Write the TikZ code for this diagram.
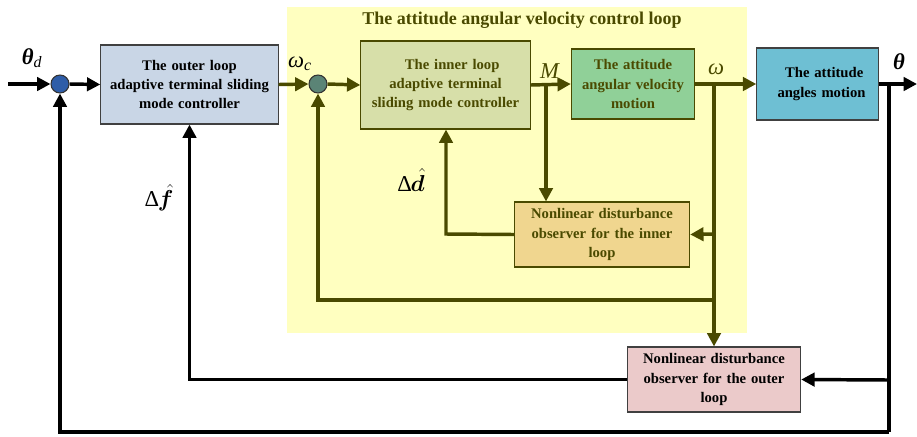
\documentclass[tikz,border=0pt]{standalone}
\usepackage{amsmath,amssymb,bm}
\usepackage{fontspec}
\setmainfont{Liberation Serif}
\usetikzlibrary{arrows.meta,calc}
\definecolor{ybg}{HTML}{FFFFC0}
\definecolor{olv}{HTML}{4A4A00}
\definecolor{outerf}{HTML}{C9D6E6}
\definecolor{innerf}{HTML}{D7DFA9}
\definecolor{motf}{HTML}{90D098}
\definecolor{angf}{HTML}{6EBFD3}
\definecolor{iobsf}{HTML}{F0D68F}
\definecolor{oobsf}{HTML}{EBCACA}
\definecolor{cblue}{HTML}{2E5DA8}
\definecolor{cteal}{HTML}{5B8476}
\tikzset{
  blk/.style={draw=black!75,line width=0.8pt,align=center,font=\fontsize{11}{14.5}\selectfont\bfseries,inner sep=2pt},
  sumc/.style={circle,draw=black!80,line width=0.8pt,minimum size=13.5pt,inner sep=0pt},
  bl/.style={line width=2.6pt,black,-{Triangle[length=10pt,width=10pt]}},
  ol/.style={line width=2.6pt,olv,-{Triangle[length=10pt,width=10pt]}},
  blp/.style={line width=2.6pt,black},
  lab/.style={font=\fontsize{17}{19}\selectfont},
}
\begin{document}
\begin{tikzpicture}[x=0.75pt,y=-0.75pt]
\useasboundingbox (0,0) rectangle (917,436);
% yellow loop region
\fill[ybg] (287,7) rectangle (747,333);
\node[font=\fontsize{13.5}{15}\selectfont\bfseries,text=olv] (title) at (522,20) {The attitude angular velocity control loop};
% blocks
\node[blk,fill=outerf,minimum width=177*0.75pt,minimum height=79*0.75pt,text width=172*0.75pt] (octrl) at (189.5,84.5) {The outer loop\\adaptive terminal sliding\\mode controller};
\node[blk,fill=innerf,draw=olv,text=olv,minimum width=167*0.75pt,minimum height=88*0.75pt,text width=164*0.75pt] (ictrl) at (445.5,85) {\hspace*{10pt}The inner loop\\adaptive terminal\\sliding mode controller};
\node[blk,fill=motf,draw=olv,text=olv,minimum width=120*0.75pt,minimum height=70*0.75pt,text width=118*0.75pt] (mot) at (633,84) {The attitude\\angular velocity\\motion};
\node[blk,fill=angf,minimum width=119*0.75pt,minimum height=72*0.75pt,text width=116*0.75pt] (ang) at (817.5,84) {\hspace*{10pt}The attitude\\\hspace*{6pt}angles motion};
\node[blk,fill=iobsf,draw=olv,text=olv,minimum width=174*0.75pt,minimum height=65*0.75pt,text width=170*0.75pt] (iobs) at (602,234.5) {Nonlinear disturbance\\observer for the inner\\loop};
\node[blk,fill=oobsf,minimum width=172*0.75pt,minimum height=65*0.75pt,text width=168*0.75pt] (oobs) at (714,379.5) {Nonlinear disturbance\\observer for the outer\\loop};
\node[sumc,fill=cblue] (c1) at (60,84) {};
\node[sumc,fill=cteal] (c2) at (318,84) {};
% coordinates
\coordinate (in) at (8,84);
\coordinate (out) at (917,84);
\coordinate (mB) at (546,84);
\coordinate (wB) at (714,84);
\coordinate (wI) at (714,234);
\coordinate (wF) at (714,300);
\coordinate (tB) at (889,84);
\coordinate (tO) at (889,380);
\coordinate (tL) at (889,432);
\coordinate (dI) at (446,234);
% labels
\node[lab] (lthd) at (32,58) {\textbf{\textit{θ}}\textsubscript{\textit{d}}};
\node[lab] (lwc) at (300,64) {\textit{ω}\textsubscript{\textit{c}}};
\node[lab,text=olv] (lM) at (550,71) {\textit{M}};
\node[lab,text=olv] (lw) at (716,69) {\textit{ω}};
\node[lab] (lth) at (899,62) {\textbf{\textit{θ}}};
\node[lab,inner sep=1pt] (ldd) at (411,180) {Δ\kern-1pt$\hat{\bm{d}}$};
\node[lab,inner sep=1pt] (ldf) at (159,198) {Δ\kern-1pt$\hat{\bm{f}}$};
% forward path
\draw[bl] (in) -- (c1.west);
\draw[bl] (c1.east) -- (octrl.west);
\draw[ol] (octrl.east) -- (c2.west);
\draw[ol] (c2.east) -- (ictrl.west);
\draw[ol] (ictrl.east) -- (mot.west);
\draw[ol] (mot.east) -- (ang.west);
\draw[bl] (ang.east) -- (out);
% inner loop
\draw[ol] (mB) -- (mB |- iobs.north);
\draw[ol] (iobs.west) -- (dI) -- (dI |- ictrl.south);
\draw[ol] (wB) -- (oobs.north);
\draw[ol] (wI) -- (iobs.east);
\draw[ol] (wF) -| (c2.south);
% outer loop
\draw[bl] (oobs.west) -| (octrl.south);
\draw[blp] (tB) -- (tL);
\draw[bl] (tO) -- (oobs.east);
\draw[bl] (tL) -| (c1.south);
\end{tikzpicture}
\end{document}
